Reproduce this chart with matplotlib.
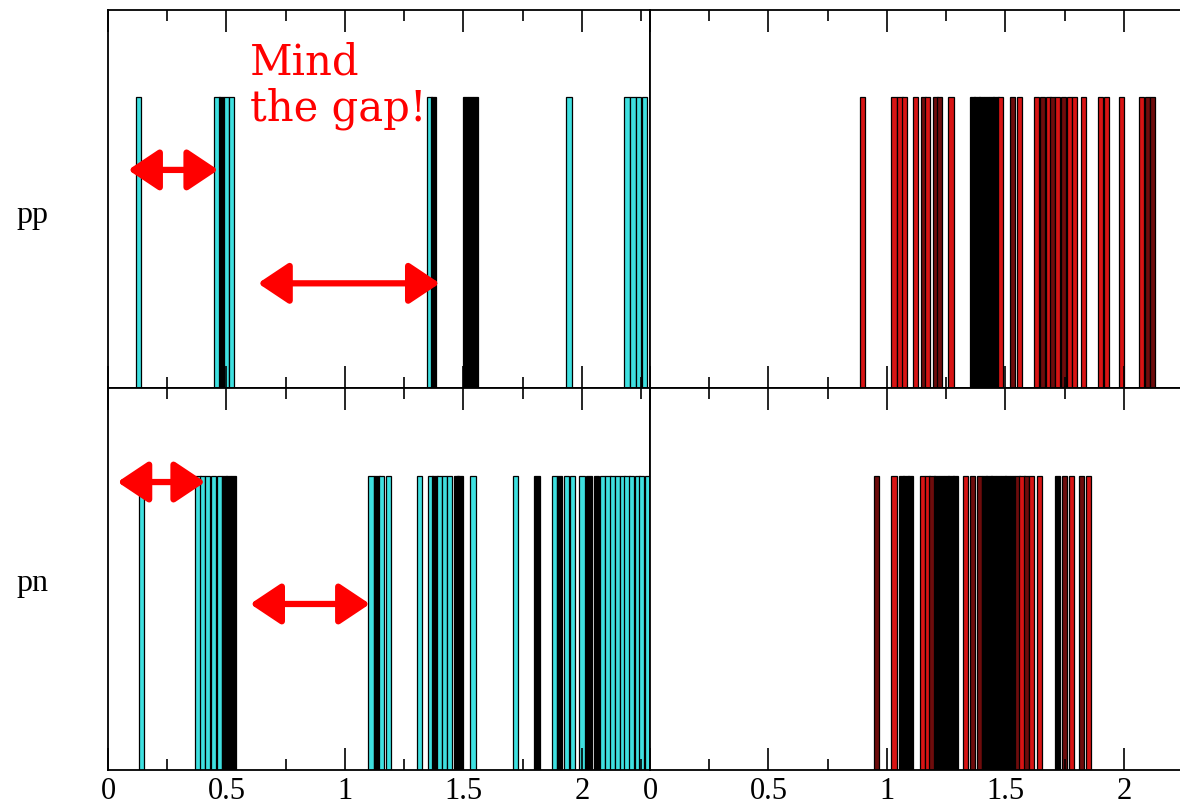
import matplotlib.pyplot as plt
from matplotlib.patches import FancyArrowPatch
from matplotlib.ticker import MultipleLocator

# bar positions (x) and fill kind: c = cyan, r = red, d = dark red, k = black
pp_left_x = [0.13, 0.46, 0.48, 0.50, 0.52, 1.355, 1.375, 1.51, 1.53, 1.55,
             1.945, 2.19, 2.215, 2.24, 2.265]
pp_left_k = ['c', 'c', 'k', 'c', 'c', 'c', 'k', 'k', 'k', 'k',
             'c', 'c', 'c', 'c', 'c']

pp_right_x = [0.895, 1.03, 1.055, 1.075, 1.12, 1.155, 1.17, 1.205, 1.22, 1.27,
              1.36, 1.38, 1.40, 1.42, 1.44, 1.46, 1.48, 1.53, 1.56,
              1.63, 1.655, 1.68, 1.70, 1.72, 1.745, 1.77, 1.79, 1.83,
              1.90, 1.925, 1.99, 2.075, 2.10, 2.12]
pp_right_k = ['r', 'r', 'r', 'r', 'r', 'd', 'r', 'd', 'd', 'r',
              'k', 'k', 'k', 'k', 'k', 'k', 'r', 'd', 'r',
              'r', 'd', 'r', 'd', 'r', 'd', 'r', 'r', 'r',
              'r', 'r', 'r', 'r', 'd', 'd']

pn_left_x = [0.14, 0.38, 0.40, 0.42, 0.445, 0.47, 0.49, 0.51, 0.53,
             1.11, 1.135, 1.155, 1.185, 1.316, 1.36, 1.38, 1.40, 1.42, 1.44,
             1.47, 1.485, 1.54, 1.72, 1.81, 1.885, 1.905, 1.935, 1.96, 2.0,
             2.03, 2.06, 2.085, 2.11, 2.13, 2.15, 2.17, 2.19, 2.21, 2.235,
             2.25, 2.275]
pn_left_k = ['c', 'c', 'c', 'c', 'c', 'c', 'k', 'k', 'k',
             'c', 'k', 'c', 'c', 'c', 'c', 'k', 'c', 'c', 'c',
             'k', 'k', 'c', 'c', 'k', 'c', 'k', 'c', 'c', 'c',
             'k', 'k', 'c', 'c', 'c', 'c', 'c', 'c', 'c', 'c',
             'c', 'c']

pn_right_x = [0.955, 1.03, 1.06, 1.08, 1.10, 1.15, 1.17, 1.19,
              1.21, 1.23, 1.25, 1.27, 1.29, 1.33, 1.36, 1.39,
              1.41, 1.43, 1.45, 1.47, 1.49, 1.51, 1.53,
              1.55, 1.57, 1.59, 1.61, 1.645, 1.72, 1.75, 1.78, 1.82, 1.85]
pn_right_k = ['d', 'r', 'k', 'k', 'k', 'r', 'r', 'd',
              'k', 'k', 'k', 'k', 'k', 'r', 'd', 'd',
              'k', 'k', 'k', 'k', 'k', 'k', 'k',
              'd', 'r', 'd', 'r', 'r', 'k', 'd', 'r', 'd', 'r']

tick_vals = [0, 0.5, 1, 1.5, 2]
tick_text = ['0', '0.5', '1', '1.5', '2']

colors = {'c': '#3ee0e0', 'r': '#d81414', 'd': '#6e0c0c', 'k': 'black'}
serif = ['Liberation Serif', 'DejaVu Serif']

fig = plt.figure(figsize=(11.8, 8.09), dpi=100)
W, H = 1180, 809


def box(x0, y0, x1, y1):
    # pixel box (top-left origin) -> figure fraction
    return [x0 / W, 1 - y1 / H, (x1 - x0) / W, (y1 - y0) / H]


ax_pp_l = fig.add_axes(box(108, 10, 650, 388))
ax_pp_r = fig.add_axes(box(650, 10, 1192, 388))
ax_pn_l = fig.add_axes(box(108, 388, 650, 770))
ax_pn_r = fig.add_axes(box(650, 388, 1192, 770))

panels = [(ax_pp_l, pp_left_x, pp_left_k), (ax_pp_r, pp_right_x, pp_right_k),
          (ax_pn_l, pn_left_x, pn_left_k), (ax_pn_r, pn_right_x, pn_right_k)]

for ax, xs, ks in panels:
    ax.bar(xs, [1] * len(xs), width=0.022, color=[colors[k] for k in ks],
           edgecolor='black', linewidth=0.9)
    ax.set_xlim(0, 2.287)
    ax.set_ylim(0, 1.3)
    ax.set_yticks([])
    ax.xaxis.set_major_locator(MultipleLocator(0.5))
    ax.xaxis.set_minor_locator(MultipleLocator(0.25))
    ax.tick_params(axis='x', which='both', direction='in', top=True, bottom=True,
                   width=1.2, labelsize=22, pad=5)
    ax.tick_params(axis='x', which='major', length=16)
    ax.tick_params(axis='x', which='minor', length=8)
    for s in ax.spines.values():
        s.set_linewidth(1.3)

for ax in (ax_pp_l, ax_pp_r):
    ax.tick_params(axis='x', labelbottom=False)

for ax in (ax_pn_l, ax_pn_r):
    ax.set_xticks(tick_vals)
    ax.set_xticklabels(tick_text, family=serif)

fig.text(32 / W, 1 - 215 / H, 'pp', fontsize=23, family=serif, ha='center', va='center')
fig.text(32 / W, 1 - 583 / H, 'pn', fontsize=23, family=serif, ha='center', va='center')

ax_pp_l.text(0.6, 1.04, 'Mind\nthe gap!', fontsize=30, family=['DejaVu Serif'],
             color='red', ha='left', va='center', linespacing=1.12)


def gap_arrow(ax, x0, x1, y):
    ax.add_patch(FancyArrowPatch((x0, y), (x1, y),
                                 arrowstyle='<|-|>,head_length=0.75,head_width=0.5',
                                 mutation_scale=25, lw=4.5, color='red',
                                 shrinkA=0, shrinkB=0, zorder=5))


gap_arrow(ax_pp_l, 0.085, 0.465, 0.75)
gap_arrow(ax_pp_l, 0.633, 1.40, 0.36)
gap_arrow(ax_pn_l, 0.04, 0.41, 0.98)
gap_arrow(ax_pn_l, 0.60, 1.105, 0.565)

fig.savefig('out.png', dpi=100)
